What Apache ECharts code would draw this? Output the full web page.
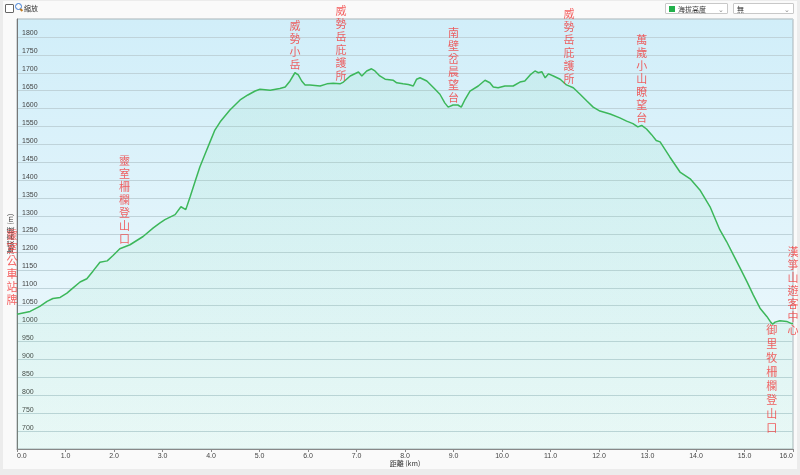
<!DOCTYPE html>
<html>
<head>
<meta charset="utf-8">
<script src="https://cdn.jsdelivr.net/npm/echarts@6/dist/echarts.min.js"></script>
<style>
html,body{margin:0;padding:0;background:#ececec;}
#wrap{position:absolute;left:0;top:0;width:800px;height:475px;}
#panel{position:absolute;left:3px;top:1px;width:794px;height:468px;background:#fafafa;}
#chart{position:absolute;left:0;top:0;width:800px;height:475px;}
.tb{position:absolute;font-family:"Noto Sans CJK TC","Noto Sans",sans-serif;font-size:7px;color:#333;}
.sel{position:absolute;top:3px;height:11px;background:#fff;border:1px solid #c8c8c8;border-radius:1px;font-family:"Noto Sans CJK TC",sans-serif;font-size:7px;line-height:11px;color:#333;box-sizing:border-box;}
.chev{position:absolute;right:3px;top:0;font-size:7px;color:#888;}
</style>
</head>
<body>
<div id="wrap">
<div id="panel"></div>
<div id="chart"></div>
<div class="tb" style="left:5px;top:4px;width:7px;height:7px;border:1px solid #666;background:#fff;border-radius:1px;"></div>
<div class="tb" style="left:15px;top:3px;width:5px;height:5px;border:1.2px solid #3a7bd5;border-radius:50%;"></div>
<div class="tb" style="left:20px;top:9px;width:3px;height:1.5px;background:#c07a20;transform:rotate(45deg);"></div>
<div class="tb" style="left:24px;top:3px;line-height:10px;">縮放</div>
<div class="sel" style="left:665px;width:63px;"><span style="position:absolute;left:3px;top:2px;width:6px;height:6px;background:#22b04b;"></span><span style="position:absolute;left:12px;">海拔高度</span><span class="chev">&#8964;</span></div>
<div class="sel" style="left:733px;width:61px;"><span style="position:absolute;left:3px;">無</span><span class="chev">&#8964;</span></div>
</div>
<script>
const distances = [0.00,0.27,0.47,0.62,0.74,0.89,1.03,1.15,1.30,1.44,1.57,1.71,1.86,1.98,2.12,2.33,2.60,2.81,2.95,
3.05,3.26,3.38,3.48,3.57,3.67,3.77,3.88,3.98,4.08,4.19,4.39,4.60,4.76,4.91,
5.01,5.22,5.42,5.53,5.63,5.73,5.80,5.87,5.94,6.04,6.25,6.39,6.52,6.66,6.73,6.87,7.04,7.11,7.21,7.31,7.38,7.48,7.59,7.76,7.83,7.96,8.07,8.17,8.24,8.31,8.45,8.59,8.72,8.82,8.89,8.99,9.09,9.16,9.24,9.34,9.51,9.65,9.75,9.82,9.92,
10.06,10.23,10.37,10.47,10.58,10.68,10.75,10.82,10.89,10.96,11.06,11.20,11.33,11.47,11.61,11.75,11.88,12.02,12.23,12.43,12.57,12.70,12.80,12.88,12.98,
13.08,13.18,13.26,13.46,13.67,13.88,14.08,14.29,14.49,14.63,14.77,14.91,15.05,15.18,15.32,15.46,15.53,15.58,15.63,15.73,15.87,15.97,16.00];
const elevations = [1026,1034,1048,1062,1070,1073,1085,1099,1116,1125,1147,1171,1175,1190,1209,1220,1243,1267,1281,
1290,1304,1326,1318,1354,1396,1437,1474,1507,1540,1563,1596,1624,1638,1649,
1654,1651,1656,1660,1677,1700,1694,1677,1666,1666,1663,1669,1671,1669,1674,1691,1702,1691,1705,1711,1705,1691,1682,1679,1672,1669,1667,1663,1682,1686,1677,1658,1640,1616,1604,1610,1610,1604,1626,1649,1663,1679,1672,1660,1658,
1663,1663,1674,1677,1694,1705,1700,1703,1686,1697,1691,1682,1666,1658,1640,1621,1604,1593,1585,1574,1565,1558,1549,1553,1543,
1528,1511,1507,1465,1423,1404,1373,1326,1262,1229,1192,1155,1117,1080,1043,1020,1006,998,1004,1008,1006,1000,1000];

const poiNames = ['靈室公車站牌','靈室柵欄登山口','威勢小岳','威勢岳庇護所','南壁岔晨望台','威勢岳庇護所','萬歲小山瞭望台','御里牧柵欄登山口','漢箏山遊客中心'];
const poiDist = [0, 2.26, 5.73, 6.68, 9.0, 11.38, 12.88, 15.56, 16.0];
const poiElev = [1026, 1215, 1700, 1670, 1610, 1662, 1553, 1000, 1000];

const xTicks = {min:0, max:16, step:1};
const yTicks = {min:650, max:1850, step:50};

const labelPlace = [
  {position:'top', offset:[-5,-7]},
  {position:'top', offset:[-2,0]},
  {position:'top', offset:[0,0]},
  {position:'top', offset:[0,0]},
  {position:'top', offset:[0,0]},
  {position:'top', offset:[0,0]},
  {position:'top', offset:[0,0]},
  {position:'bottom', offset:[0,-2]},
  {position:'top', offset:[0,14]}
];

const lineData = distances.map((d,i)=>[d, elevations[i]]);
const poiData = poiNames.map((n,i)=>({
  value:[poiDist[i], poiElev[i]],
  name:n,
  label:{position:labelPlace[i].position, offset:labelPlace[i].offset,
         lineHeight: labelPlace[i].position==='bottom' ? 14 : 13}
}));

const chart = echarts.init(document.getElementById('chart'), null, {renderer:'canvas'});
chart.setOption({
  animation:false,
  grid:{left:17,right:7,top:19,bottom:26,show:true,borderColor:'#a9b4b8',borderWidth:1,
    containLabel:false, outerBoundsMode:'none',
    backgroundColor:{type:'linear',x:0,y:0,x2:0,y2:1,colorStops:[{offset:0,color:'#d1eef9'},{offset:1,color:'#f2fafd'}]}},
  xAxis:{type:'value',min:xTicks.min,max:xTicks.max,interval:xTicks.step,
    name:'距離 (km)',nameLocation:'middle',nameGap:11,nameMoveOverlap:false,
    nameTextStyle:{fontSize:7,color:'#333',fontFamily:'Noto Sans CJK TC'},
    axisLine:{lineStyle:{color:'#888'}},
    axisTick:{show:true,length:3,lineStyle:{color:'#888'}},
    axisLabel:{fontSize:7,color:'#444',margin:4,fontFamily:'Liberation Sans',alignMinLabel:'left',alignMaxLabel:'right',
      formatter:v=>v.toFixed(1)},
    splitLine:{show:false}},
  yAxis:{type:'value',min:yTicks.min,max:yTicks.max,interval:yTicks.step,
    name:'海拔高度 (m)',nameLocation:'middle',nameGap:3,nameRotate:90,nameMoveOverlap:false,
    nameTextStyle:{fontSize:7,color:'#333',fontFamily:'Noto Sans CJK TC'},
    axisLine:{show:true,lineStyle:{color:'#777'}},
    axisTick:{show:false},
    axisLabel:{inside:true,verticalAlign:'bottom',margin:5,fontSize:7,color:'#444',fontFamily:'Liberation Sans',
      showMinLabel:false,showMaxLabel:false,formatter:v=>String(v)},
    splitLine:{show:true,lineStyle:{color:'#bfd3da',width:1}}},
  series:[
    {type:'line',data:lineData,symbol:'none',smooth:false,
      lineStyle:{color:'#3cb75a',width:1.5},
      areaStyle:{color:{type:'linear',x:0,y:0,x2:0,y2:1,colorStops:[{offset:0,color:'rgba(90,210,150,0.14)'},{offset:1,color:'rgba(110,225,150,0.10)'}]}},
      silent:true,z:2},
    {type:'scatter',data:poiData,symbolSize:0,silent:true,z:3,
      label:{show:true,distance:1,color:'#f23a3a',fontSize:11,lineHeight:13,fontFamily:'Noto Sans CJK TC',
        formatter:p=>p.name.split('').join('\n')}}
  ]
});
</script>
</body>
</html>
